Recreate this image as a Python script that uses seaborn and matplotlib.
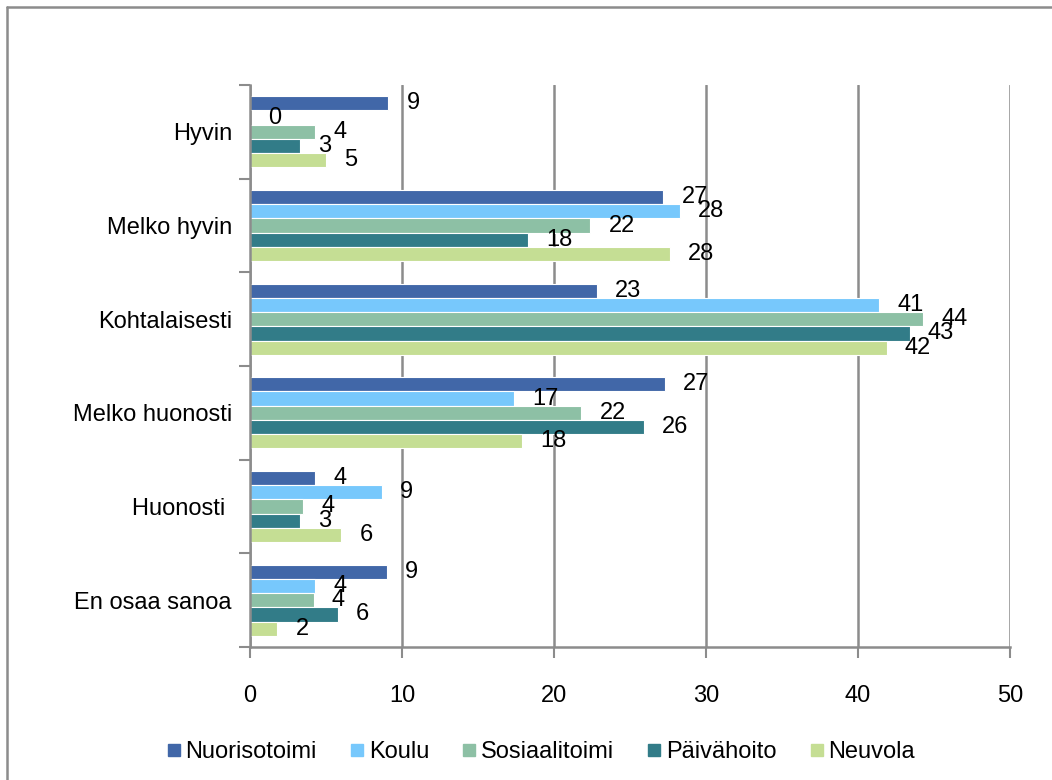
import seaborn as sns, matplotlib.pyplot as plt
import pandas as pd
from matplotlib.lines import Line2D

# vastausvaihtoehdot ja toimijat
kategoriat = ['Hyvin', 'Melko hyvin', 'Kohtalaisesti', 'Melko huonosti', 'Huonosti ', 'En osaa sanoa']
sarjat = ['Nuorisotoimi', 'Koulu', 'Sosiaalitoimi', 'Päivähoito', 'Neuvola']

nuorisotoimi = [9.1, 27.2, 22.8, 27.3, 4.3, 9.0]
koulu = [0.0, 28.3, 41.4, 17.4, 8.7, 4.3]
sosiaalitoimi = [4.3, 22.4, 44.3, 21.8, 3.5, 4.2]
paivahoito = [3.3, 18.3, 43.4, 25.9, 3.3, 5.8]
neuvola = [5.0, 27.6, 41.9, 17.9, 6.0, 1.8]

varit = ['#4167A8', '#77C8FC', '#8DC0A5', '#327C88', '#C5DE94']

arvot = [nuorisotoimi, koulu, sosiaalitoimi, paivahoito, neuvola]
df = pd.DataFrame([(k, s, v) for s, rivi in zip(sarjat, arvot) for k, v in zip(kategoriat, rivi)],
                  columns=['kategoria', 'sarja', 'arvo'])

sns.set_style('white')
plt.rcParams['font.family'] = ['Liberation Sans', 'DejaVu Sans']
plt.rcParams['font.stretch'] = 'normal'
plt.rcParams['text.color'] = 'black'
plt.rcParams['xtick.labelcolor'] = 'black'
plt.rcParams['ytick.labelcolor'] = 'black'

fs = 17
fig = plt.figure(figsize=(10.52, 7.8), dpi=100)
ax = fig.add_axes([250/1052, 1 - 647/780, 760/1052, 562/780])

sns.barplot(data=df, y='kategoria', x='arvo', hue='sarja', orient='h',
            palette=varit, saturation=1, width=0.76, errorbar=None,
            edgecolor='white', linewidth=0.8, ax=ax, legend=False)

for cont, rivi in zip(ax.containers, arvot):
    ax.bar_label(cont, labels=[str(int(v + 0.5)) for v in rivi], padding=13,
                 fontsize=fs, color='black')

ax.set_xlim(0, 50)
ax.set_ylim(5.5, -0.5)
ax.set_xticks(range(0, 51, 10))
ax.set_xlabel('')
ax.set_ylabel('')
ax.grid(axis='x', color='#8c8c8c', linewidth=1.8)
ax.grid(axis='y', visible=False)
ax.set_axisbelow(True)

for side in ['top', 'right']:
    ax.spines[side].set_visible(False)
for side in ['left', 'bottom']:
    ax.spines[side].set_color('#8c8c8c')
    ax.spines[side].set_linewidth(1.8)

ax.set_yticks([i - 0.5 for i in range(7)], minor=True)
ax.tick_params(axis='y', which='major', length=0, pad=13, labelsize=fs)
ax.tick_params(axis='y', which='minor', length=8, width=1.5, color='#8c8c8c', direction='out', left=True)
ax.tick_params(axis='x', which='major', length=8, width=1.5, color='#8c8c8c', direction='out',
               bottom=True, pad=19, labelsize=fs)

kahvat = [Line2D([0], [0], marker='s', linestyle='none', markersize=8, color=c) for c in varit]
fig.legend(kahvat, sarjat, loc='center', bbox_to_anchor=(0.513, 1 - 752/780), ncol=5,
           frameon=False, fontsize=fs, handletextpad=0.1, columnspacing=1.3, handlelength=0.8,
           labelcolor='black')

# kaavion kehys
fig.add_artist(Line2D([7/1052, 7/1052], [0, 1 - 7/780], color='#8c8c8c', linewidth=1.8, transform=fig.transFigure))
fig.add_artist(Line2D([7/1052, 1], [1 - 7/780, 1 - 7/780], color='#8c8c8c', linewidth=1.8, transform=fig.transFigure))

fig.savefig('out.png', dpi=100)
